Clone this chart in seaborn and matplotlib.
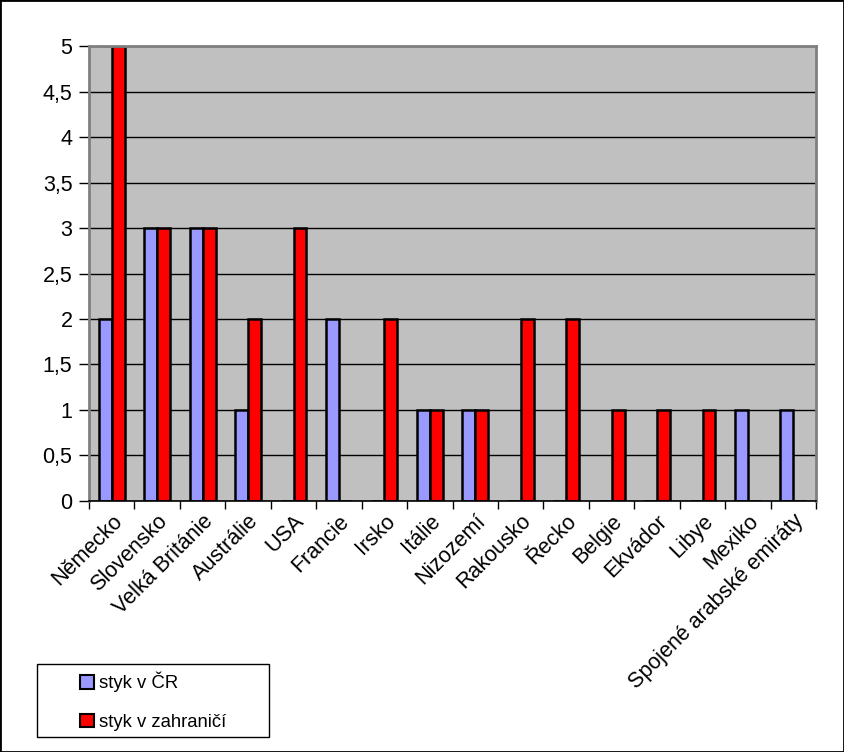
import numpy as np
import pandas as pd
import seaborn as sns
import matplotlib.pyplot as plt
from matplotlib.ticker import FuncFormatter

# data
zeme = ['Německo', 'Slovensko', 'Velká Británie', 'Austrálie', 'USA', 'Francie',
        'Irsko', 'Itálie', 'Nizozemí', 'Rakousko', 'Řecko', 'Belgie', 'Ekvádor',
        'Libye', 'Mexiko', 'Spojené arabské emiráty']
styk_cr = [2, 3, 3, 1, 0, 2, 0, 1, 1, 0, 0, 0, 0, 0, 1, 1]
styk_zahr = [5, 3, 3, 2, 3, 0, 2, 1, 1, 2, 2, 1, 1, 1, 0, 0]
serie = ['styk v ČR', 'styk v zahraničí']

df = pd.DataFrame({'zeme': zeme * 2,
                   'pocet': styk_cr + styk_zahr,
                   'serie': [serie[0]] * len(zeme) + [serie[1]] * len(zeme)})

plt.rcParams['font.family'] = ['Liberation Sans', 'DejaVu Sans']

fig = plt.figure(figsize=(8.44, 7.52), dpi=100)
ax = fig.add_axes([0.1055, 0.3338, 0.8615, 0.605])
ax.set_facecolor('#C0C0C0')
ax.set_axisbelow(True)
ax.yaxis.grid(True, color='black', lw=1)

sns.barplot(data=df, x='zeme', y='pocet', hue='serie', hue_order=serie,
            palette=['#9999FF', '#FF0000'], saturation=1, width=0.57,
            edgecolor='black', linewidth=1.8, ax=ax, legend=True)

ax.set_ylim(0, 5)
ax.set_xlim(-0.5, len(zeme) - 0.5)
ax.set_yticks(np.arange(0, 5.01, 0.5))
ax.yaxis.set_major_formatter(FuncFormatter(lambda v, p: ('%g' % v).replace('.', ',')))
ax.tick_params(axis='y', labelsize=15.5, length=7, width=1, color='black', pad=5)
ax.set_xticks(np.arange(-0.5, len(zeme), 1), minor=True)
ax.tick_params(axis='x', which='major', length=0, pad=7)
ax.tick_params(axis='x', which='minor', length=6, width=1, color='black')
plt.setp(ax.get_xticklabels(), rotation=45, ha='right', rotation_mode='anchor', fontsize=15.5)
ax.set_xlabel('')
ax.set_ylabel('')

for s in ['top', 'right', 'left']:
    ax.spines[s].set_color('#808080')
    ax.spines[s].set_linewidth(2)
ax.spines['bottom'].set_color('black')
ax.spines['bottom'].set_linewidth(1.2)

# legend: box drawn separately, entries placed inside
leg = ax.legend(loc='upper left', bbox_to_anchor=(80 / 844, 1 - 672 / 752),
                bbox_transform=fig.transFigure, fontsize=13.3, frameon=False,
                handlelength=0.75, handleheight=0.75, handletextpad=0.3,
                labelspacing=1.15, borderpad=0, borderaxespad=0)
for h in leg.legend_handles:
    h.set_edgecolor('black')
    h.set_linewidth(1.5)
fig.add_artist(plt.Rectangle((37 / 844, 1 - 737 / 752), 232 / 844, 73 / 752,
                             fill=False, edgecolor='black', lw=1,
                             transform=fig.transFigure))

fig.add_artist(plt.Rectangle((0, 0), 1, 1, fill=False, edgecolor='black', lw=2,
                             transform=fig.transFigure))

fig.savefig('out.png', dpi=100)
